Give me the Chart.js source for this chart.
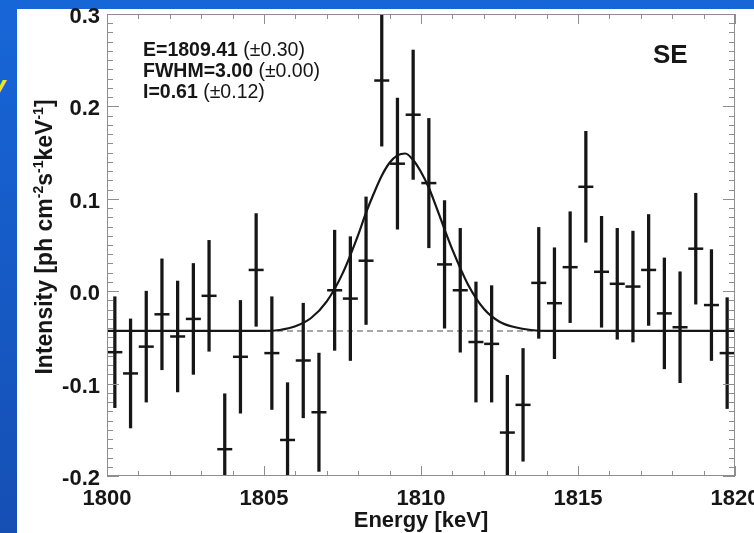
<!DOCTYPE html>
<html>
<head>
<meta charset="utf-8">
<script src="https://cdn.jsdelivr.net/npm/chart.js@4/dist/chart.umd.min.js"></script>
<style>
  html, body { margin: 0; padding: 0; }
  body { width: 754px; height: 533px; overflow: hidden; position: relative;
         background: linear-gradient(#1766d8, #154fb4); }
  #panel { position: absolute; left: 17px; top: 9px; right: 0; bottom: 0; background: #fff; }
  #mark { position: absolute; left: -10px; top: 70px; color: #f2e41a;
          font: italic bold 28px "Liberation Sans", Arial, sans-serif; }
  #wrap { position: absolute; left: 0; top: 0; width: 754px; height: 533px; }
</style>
</head>
<body>
<div id="mark">y</div>
<div id="panel"></div>
<div id="wrap"><canvas id="chart"></canvas></div>
<script>
// bin centres (keV)
const energies = [1800.25, 1800.75, 1801.25, 1801.75, 1802.25, 1802.75, 1803.25, 1803.75,
  1804.25, 1804.75, 1805.25, 1805.75, 1806.25, 1806.75, 1807.25, 1807.75, 1808.25, 1808.75,
  1809.25, 1809.75, 1810.25, 1810.75, 1811.25, 1811.75, 1812.25, 1812.75, 1813.25, 1813.75,
  1814.25, 1814.75, 1815.25, 1815.75, 1816.25, 1816.75, 1817.25, 1817.75, 1818.25, 1818.75,
  1819.25, 1819.75];
// measured intensity per bin
const intensity = [-0.066, -0.089, -0.060, -0.025, -0.049, -0.030, -0.005, -0.171,
  -0.071, 0.023, -0.067, -0.161, -0.075, -0.131, 0.001, -0.008, 0.033, 0.228,
  0.138, 0.191, 0.117, 0.029, 0.001, -0.055, -0.057, -0.153, -0.123, 0.009,
  -0.013, 0.026, 0.113, 0.021, 0.008, 0.005, 0.023, -0.024, -0.039, 0.046,
  -0.015, -0.067];
// 1 sigma errors
const errors = [0.060, 0.059, 0.060, 0.060, 0.060, 0.060, 0.060, 0.060,
  0.061, 0.061, 0.061, 0.062, 0.062, 0.064, 0.065, 0.067, 0.069, 0.071,
  0.071, 0.070, 0.070, 0.069, 0.067, 0.065, 0.063, 0.062, 0.061, 0.060,
  0.060, 0.060, 0.060, 0.060, 0.060, 0.060, 0.060, 0.060, 0.060, 0.060,
  0.060, 0.060];

// fitted line
const fitE = [1800, 1805, 1805.5, 1806, 1806.5, 1807, 1807.5, 1808, 1808.25, 1808.5, 1808.75,
  1809, 1809.25, 1809.5, 1809.75, 1810, 1810.25, 1810.5, 1810.75, 1811, 1811.5, 1812,
  1812.5, 1813, 1813.5, 1814, 1820];
const fitI = [-0.043, -0.043, -0.042, -0.038, -0.029, -0.011, 0.019, 0.061, 0.085, 0.106, 0.125,
  0.139, 0.147, 0.149, 0.142, 0.129, 0.112, 0.090, 0.067, 0.045, 0.007, -0.019,
  -0.033, -0.039, -0.042, -0.043, -0.043];
// continuum level
const baseE = [1800, 1820];
const baseI = [-0.043, -0.043];

const xTicks = [1800, 1805, 1810, 1815, 1820];
const yTicks = [-0.2, -0.1, 0.0, 0.1, 0.2, 0.3];

const FONT = '"Liberation Sans", Arial, Helvetica, sans-serif';
const INK = '#161616';

function drawRuns(ctx, runs, x, y) {
  let cx = x;
  runs.forEach(r => {
    ctx.font = r[1];
    ctx.fillText(r[0], cx, y + (r[2] || 0));
    cx += ctx.measureText(r[0]).width;
  });
}
function runsWidth(ctx, runs) {
  let w = 0;
  runs.forEach(r => { ctx.font = r[1]; w += ctx.measureText(r[0]).width; });
  return w;
}

// frame, inward ticks and the text in the plot
const decor = {
  id: 'decor',
  afterDraw(chart) {
    const ctx = chart.ctx, a = chart.chartArea;
    const xs = chart.scales.x, ys = chart.scales.y;
    ctx.save();
    ctx.strokeStyle = '#8e8e8e';
    ctx.lineWidth = 1;
    ctx.strokeRect(a.left + 0.5, a.top + 0.5, a.right - a.left - 1, a.bottom - a.top - 1);
    ctx.beginPath();
    for (let k = 1800; k <= 1820; k++) {
      const px = Math.round(xs.getPixelForValue(k)) + 0.5;
      const len = k % 5 === 0 ? 10 : 5;
      ctx.moveTo(px, a.bottom); ctx.lineTo(px, a.bottom - len);
      ctx.moveTo(px, a.top); ctx.lineTo(px, a.top + len);
    }
    for (let j = -20; j <= 30; j++) {
      const py = Math.round(ys.getPixelForValue(j / 100)) + 0.5;
      const len = j % 10 === 0 ? 12 : 6;
      ctx.moveTo(a.left, py); ctx.lineTo(a.left + len, py);
      ctx.moveTo(a.right, py); ctx.lineTo(a.right - len, py);
    }
    ctx.stroke();

    ctx.fillStyle = INK;
    ctx.textBaseline = 'alphabetic';
    ctx.textAlign = 'left';
    const b = 'bold 19.5px ' + FONT, n = '19.5px ' + FONT;
    drawRuns(ctx, [['E=1809.41', b], [' (\u00b10.30)', n]], 143, 56);
    drawRuns(ctx, [['FWHM=3.00', b], [' (\u00b10.00)', n]], 143, 77);
    drawRuns(ctx, [['I=0.61', b], [' (\u00b10.12)', n]], 143, 98);

    ctx.font = 'bold 26px ' + FONT;
    ctx.fillText('SE', 653, 63);

    ctx.font = 'bold 22px ' + FONT;
    ctx.textAlign = 'center';
    ctx.fillText('Energy [keV]', 421, 527);

    // y title with superscripts
    ctx.textAlign = 'left';
    const tb = 'bold 23px ' + FONT, sb = 'bold 14px ' + FONT;
    const yt = [['Intensity [ph cm', tb], ['-2', sb, -9], ['s', tb], ['-1', sb, -9],
                ['keV', tb], ['-1', sb, -9], [']', tb]];
    const w = runsWidth(ctx, yt);
    ctx.translate(52, 237);
    ctx.rotate(-Math.PI / 2);
    drawRuns(ctx, yt, -w / 2, 0);
    ctx.restore();
  }
};

const barData = energies.map((e, i) => ({ x: e, y: [intensity[i] - errors[i], intensity[i] + errors[i]] }));
const ptData = energies.map((e, i) => ({ x: e, y: intensity[i] }));

new Chart(document.getElementById('chart'), {
  type: 'scatter',
  data: {
    datasets: [
      {
        type: 'line',
        data: baseE.map((e, i) => ({ x: e, y: baseI[i] })),
        borderColor: '#8a8a8a', borderWidth: 1.6, borderDash: [6, 4],
        pointRadius: 0, fill: false, order: 4
      },
      {
        type: 'line',
        data: fitE.map((e, i) => ({ x: e, y: fitI[i] })),
        borderColor: INK, borderWidth: 2.2, cubicInterpolationMode: 'monotone',
        pointRadius: 0, fill: false, order: 3
      },
      {
        type: 'bar',
        data: barData,
        backgroundColor: INK, borderWidth: 0, barThickness: 2.6, order: 2
      },
      {
        type: 'scatter',
        data: ptData,
        pointStyle: 'line', pointRadius: 7.5, borderWidth: 2.5,
        borderColor: INK, backgroundColor: INK, order: 1
      }
    ]
  },
  options: {
    responsive: true,
    maintainAspectRatio: false,
    animation: false,
    layout: { padding: { left: 0, right: 19, top: 14, bottom: 0 } },
    plugins: { legend: { display: false }, tooltip: { enabled: false } },
    scales: {
      x: {
        type: 'linear', min: 1800, max: 1820, offset: false,
        afterBuildTicks: s => { s.ticks = xTicks.map(v => ({ value: v })); },
        afterFit: s => { s.height = 57; s.paddingLeft = 0; s.paddingRight = 0; },
        ticks: { color: INK, padding: 10, maxRotation: 0, font: { family: FONT, size: 22, weight: 'bold' },
                 callback: v => String(v) },
        grid: { display: false, drawTicks: false, offset: false },
        border: { display: false }
      },
      y: {
        type: 'linear', min: -0.2, max: 0.3,
        afterBuildTicks: s => { s.ticks = yTicks.map(v => ({ value: v })); },
        afterFit: s => { s.width = 107; s.paddingTop = 0; s.paddingBottom = 0; },
        ticks: { color: INK, padding: 7, labelOffset: 3, font: { family: FONT, size: 22, weight: 'bold' },
                 callback: v => v.toFixed(1) },
        grid: { display: false, drawTicks: false },
        border: { display: false }
      }
    }
  },
  plugins: [decor]
});
</script>
</body>
</html>
